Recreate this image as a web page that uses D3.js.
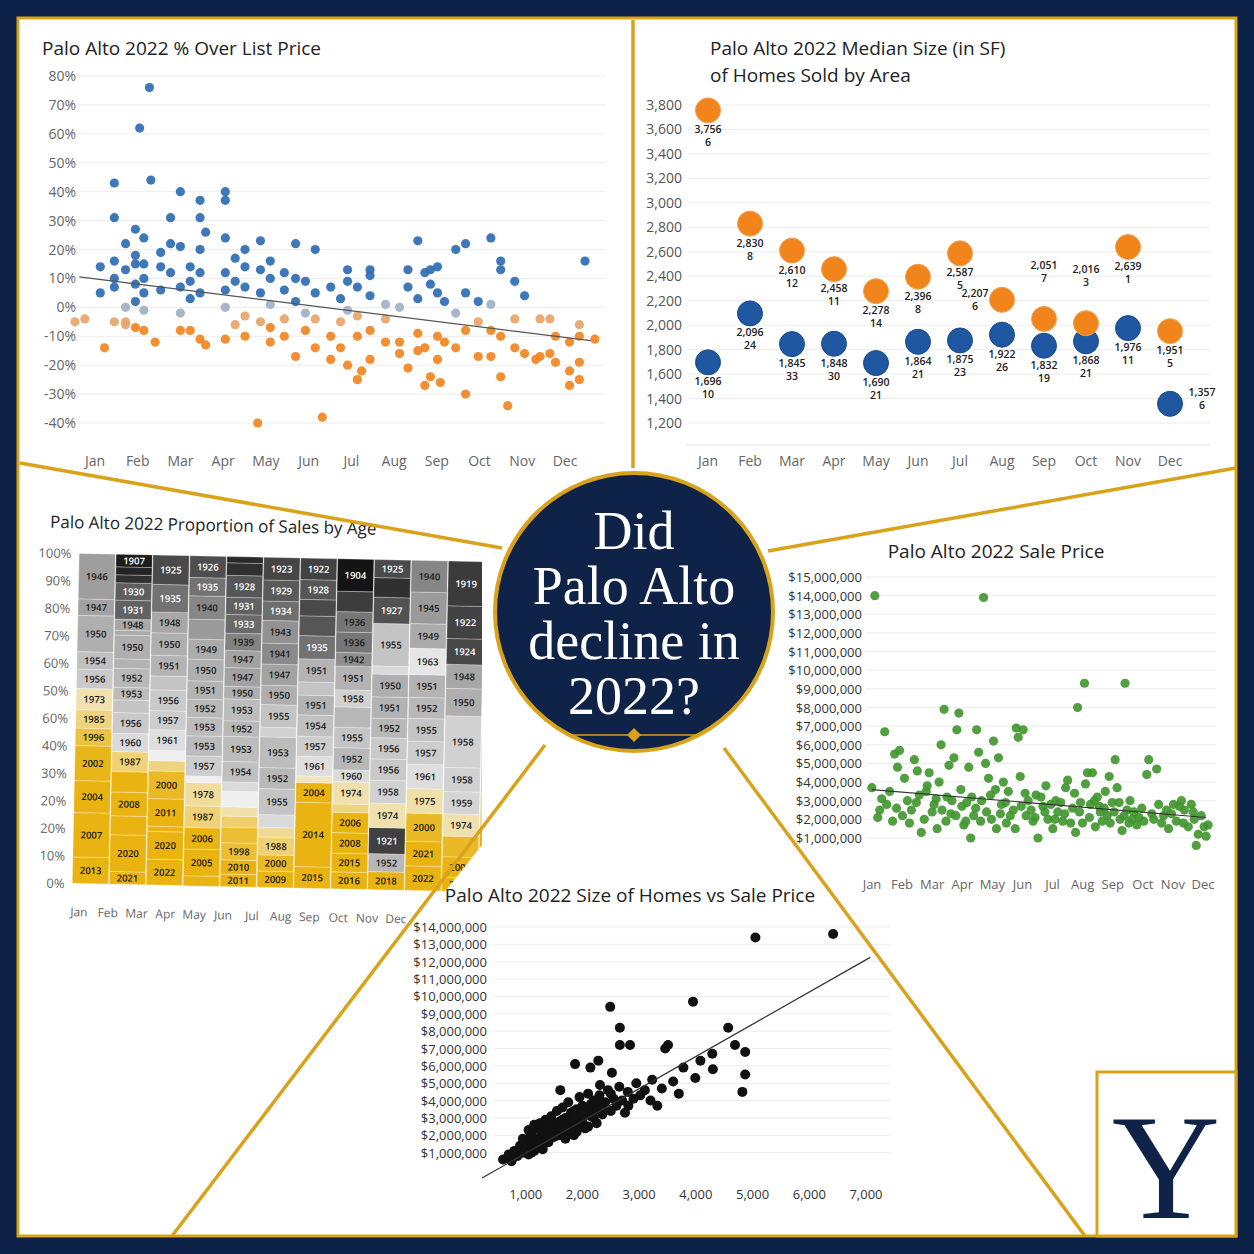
<!DOCTYPE html>
<html><head><meta charset="utf-8">
<script src="https://cdn.jsdelivr.net/npm/d3@7"></script>
<style>body{margin:0;background:#0b2145}text{font-family:"Open Sans",Lato,sans-serif}</style>
</head><body>
<svg id="c" width="1254" height="1254"></svg>
<script>
// ---------- data ----------
const months = ["Jan","Feb","Mar","Apr","May","Jun","Jul","Aug","Sep","Oct","Nov","Dec"];

// % over list: [day of year, percent]
const overList = [[1,-5],[8,-4],[19,14],[19,5],[22,-14],[29,43],[29,31],[29,16],[29,10],[29,7],[29,-5],
 [37,22],[37,13],[37,0],[37,-6],[37,-5],[44,27],[44,18],[44,15],[44,8],[44,2],[44,-7],
 [47,62],[54,76],[55,44],[50,24],[50,15],[50,10],[50,5],[50,-1],[50,-8],[58,-12],[62,19],[62,14],[62,6],
 [69,31],[69,22],[69,12],[76,40],[76,21],[76,7],[76,-2],[76,-8],[83,14],[83,9],[83,3],[83,-8],
 [90,37],[90,31],[90,20],[90,12],[90,5],[90,-11],[94,26],[94,-13],[108,40],[108,37],[108,24],[108,12],[108,6],[108,0],[108,-11],
 [115,17],[115,9],[115,-6],[122,20],[122,14],[122,7],[122,-3],[122,-10],[131,-40],[133,23],[133,13],[133,5],[133,-5],
 [140,16],[140,10],[140,1],[140,-7],[140,-12],[150,12],[150,6],[150,-4],[150,-10],[158,22],[158,10],[158,2],[158,-17],
 [165,9],[165,-2],[165,-8],[172,20],[172,5],[172,-4],[172,-14],[177,-38],[183,7],[183,-10],[183,-18],
 [190,3],[190,-5],[190,-14],[195,13],[195,9],[195,-1],[195,-20],[202,7],[202,-3],[202,-10],[202,-25],[205,-22],
 [211,11],[211,13],[211,4],[211,-8],[211,-18],[222,1],[222,-4],[222,-12],[232,0],[232,-12],[232,-16],
 [238,13],[238,7],[238,-21],[245,23],[245,3],[245,-9],[245,-15],[250,12],[250,-14],[250,-27],[254,13],[254,8],[254,-24],
 [259,14],[259,5],[259,-10],[259,-18],[261,-26],[264,2],[264,-12],[272,20],[272,-2],[272,-14],
 [279,22],[279,5],[279,-8],[279,-30],[288,2],[288,-5],[288,-17],[297,24],[297,1],[297,-8],[297,-17],
 [304,16],[304,13],[304,-10],[304,-24],[309,-34],[314,9],[314,-4],[314,-14],[321,4],[321,-16],
 [329,-18],[332,-17],[332,-4],[339,-4],[339,-16],[343,-19],[343,-10],[353,-12],[353,-27],[353,-22],
 [360,-6],[360,-10],[360,-19],[360,-25],[364,16],[371,-11]];
const overTrend = [[4,10.5],[368,-11.5]];

// median size by area
const sizeOrange = [3756,2830,2610,2458,2278,2396,2587,2207,2051,2016,2639,1951];
const countOrange = [6,8,12,11,14,8,5,6,7,3,1,5];
const sizeBlue = [1696,2096,1845,1848,1690,1864,1875,1922,1832,1868,1976,1357];
const countBlue = [10,24,33,30,21,21,23,26,19,21,11,6];

// proportion of sales by age: per month, [year built, share] bottom to top
const ageCols = [
 [[2013,8],[2007,13.5],[2004,9.7],[2002,10.6],[1996,5.3],[1985,5.6],[1973,6.5],[1956,5.8],[1954,5.3],[1950,11],[1947,5],[1946,13.8]],
 [[2021,4],[2020,11.6],[2017,6],[2008,7.5],[2003,6.5],[1987,6.3],[1960,5.8],[1956,6.5],[1955,4],[1953,4],[1952,6],[1951,3],[1950,7.5],[1949,1.5],[1948,3.5],[1931,6],[1930,5.5],[1915,2.5],[1910,2.5],[1907,4]],
 [[2022,7.5],[2020,8],[2015,1.5],[2011,8],[2000,8],[1985,3],[1965,3],[1961,6],[1957,5.5],[1956,6],[1955,4],[1951,6],[1950,6.5],[1948,6],[1935,8],[1925,8.5]],
 [[2021,3],[2005,8],[2006,6.5],[1987,6.5],[1978,7],[1965,2],[1957,6],[1953,6],[1953,5.5],[1952,5.5],[1951,5.5],[1950,6.5],[1949,6],[1945,6],[1940,7],[1935,5.5],[1926,6.5]],
 [[2011,4],[2010,4.5],[1998,5.5],[1998,5],[1990,3.5],[1975,3],[1965,5],[1960,3],[1954,6.5],[1953,8],[1952,5],[1953,7],[1950,4],[1947,6],[1947,5.5],[1939,5.5],[1933,6],[1931,5.5],[1928,7],[1915,4],[1912,2]],
 [[2009,5],[2000,5],[1988,5.5],[1980,3],[1960,4],[1955,8],[1952,6.5],[1953,9.5],[1958,3],[1955,7],[1950,6],[1947,6.5],[1941,6.5],[1943,7],[1934,6],[1929,6.5],[1923,7]],
 [[2015,6.5],[2014,19.5],[2004,6],[1970,2],[1961,6],[1957,6],[1954,6.5],[1951,6],[1955,4],[1951,7],[1935,7],[1928,6],[1925,5],[1928,6],[1922,6.5]],
 [[2016,5],[2015,5.5],[2008,6],[2006,6],[1985,2.5],[1974,6.5],[1960,3.5],[1952,6.5],[1955,6],[1952,6],[1958,5],[1951,7],[1942,4],[1936,6],[1936,6],[1920,6],[1904,9.5]],
 [[2018,5.5],[1952,5.5],[1921,8],[1974,7.5],[1958,7],[1956,6.5],[1956,6.5],[1952,6],[1951,6.5],[1950,7],[1960,2.5],[1955,13],[1927,8],[1915,6],[1925,5.5]],
 [[2022,7],[2021,7],[2000,8],[1975,7],[1961,7],[1957,6.5],[1955,6.5],[1952,6],[1951,6.5],[1963,7.5],[1949,7],[1945,9],[1940,9]],
 [[2010,4],[2005,6],[2000,6],[1974,6.5],[1959,6.5],[1958,7],[1958,15],[1950,8],[1948,7],[1924,7.5],[1922,9.5],[1919,13]],
 [[2012,20],[1980,10],[1958,30],[1940,40]]
];
const ageTicks = ["100%","90%","80%","70%","60%","50%","60%","40%","30%","20%","20%","10%","0%"];
const unlabeled = {"1-2":1,"1-4":1,"1-8":1,"1-13":1,"1-17":1,"1-18":1,"2-2":1,"2-5":1,"2-6":1,"2-10":1,"3-0":1,"3-5":1,"3-13":1,"4-3":1,"4-4":1,"4-5":1,"4-6":1,"4-7":1,"4-19":1,"4-20":1,"5-3":1,"5-4":1,"5-8":1,"6-3":1,"6-8":1,"6-11":1,"6-12":1,"7-4":1,"7-9":1,"7-15":1,"8-10":1,"8-13":1,"10-2":1,"11-0":1,"11-1":1,"11-2":1,"11-3":1};

// sale price: [day of year, $M]
const salePrice = [[18,14],[15,3.7],[28,6.7],[23,2.5],[33,3.5],[38,5.5],[41,4.8],[43,5.7],[48,4.2],[51,3.0],[55,2.5],[58,5.2],[61,4.6],[63,3.3],[68,2.0],[71,3.8],[73,4.5],[78,2.8],[81,1.5],[83,4.0],[85,6.0],[88,7.9],[91,3.2],[93,4.9],[95,2.3],[98,5.3],[101,6.8],[103,7.7],[105,3.6],[108,1.7],[111,2.9],[113,4.8],[115,1.0],[118,2.2],[121,6.8],[123,5.6],[126,3.0],[128,13.9],[130,5.0],[133,4.2],[135,3.3],[138,6.2],[141,1.5],[143,5.3],[146,2.8],[148,4.0],[151,1.8],[153,3.5],[158,2.5],[161,6.9],[163,6.4],[165,4.3],[168,6.8],[171,2.2],[173,3.0],[178,1.9],[181,3.3],[183,1.0],[188,2.7],[191,3.8],[193,2.0],[198,1.5],[201,3.0],[203,2.4],[208,1.9],[211,3.7],[213,4.1],[218,2.6],[221,1.3],[223,8.0],[226,2.9],[230,9.3],[231,3.9],[233,4.5],[235,2.1],[238,4.5],[241,1.6],[243,3.2],[246,2.4],[248,1.9],[251,3.5],[253,2.2],[255,4.3],[258,2.9],[261,5.2],[263,3.7],[266,2.0],[268,1.4],[271,9.3],[273,2.5],[276,3.0],[278,2.0],[283,1.7],[288,2.6],[293,4.4],[295,5.2],[298,2.3],[303,4.7],[305,2.8],[308,1.8],[313,2.5],[315,1.5],[318,2.3],[323,1.9],[326,2.7],[328,3.0],[331,2.5],[335,1.6],[338,2.8],[341,2.0],[343,0.6],[345,1.2],[348,2.2],[351,1.6],[353,1.1],[355,1.7],
 [21,2.1],[25,3.1],[30,2.8],[36,1.9],[40,2.6],[46,2.2],[53,1.8],[60,2.9],[65,1.3],[70,3.5],[76,2.4],[80,3.1],[86,2.5],[90,1.9],[96,3.0],[100,2.2],[106,2.7],[110,1.9],[116,3.2],[120,2.6],[125,1.9],[131,2.4],[136,2.0],[140,3.6],[145,2.3],[150,2.9],[155,2.2],[160,1.5],[166,2.7],[170,3.4],[176,2.5],[180,2.1],[186,3.2],[190,2.4],[196,2.8],[200,2.0],[206,2.9],[210,2.3],[216,1.8],[220,3.4],[225,2.4],[228,1.8],[236,2.8],[240,3.0],[245,2.7],[250,2.6],[256,1.8],[260,2.4],[265,2.9],[270,2.2],[275,1.8],[280,2.4],[285,2.1],[290,1.9],[300,2.0],[310,2.2],[320,2.8],[330,1.8],[340,2.4]];
const saleTrend = [[15,3.6],[353,2.1]];

// size vs price: [sq ft, $M]
const sizePrice = [[5050,13.4],[6420,13.6],[2490,9.4],[3950,9.7],[2660,8.2],[2660,7.2],[2840,7.2],[3460,7.0],[3510,7.2],[4570,8.2],[4690,7.2],[4870,6.8],[4290,6.7],[4080,6.3],[3780,5.9],[4870,5.5],[4820,4.5],[3990,5.3],[3230,5.2],[3020,4.3],[2810,3.7],[3320,3.7],[2520,5.6],[2310,4.9],[2140,5.9],[2280,6.3],[1870,6.1],[1610,4.6],
 [600,0.6],[700,0.9],[750,0.5],[800,1.1],[850,0.8],[900,1.4],[950,1.0],[1000,1.6],[1000,1.2],[1050,0.9],[1050,1.8],[1100,1.4],[1100,2.1],[1150,1.1],[1150,1.7],[1200,2.4],[1200,1.3],[1250,1.9],[1250,2.7],[1300,1.5],[1300,2.2],[1350,1.8],[1350,2.9],[1400,2.4],[1400,1.6],[1450,2.0],[1450,3.1],[1500,2.6],[1500,1.9],[1550,2.3],[1550,3.4],[1600,2.8],[1600,2.0],[1650,2.5],[1650,3.6],[1700,2.2],[1700,3.0],[1750,2.7],[1750,3.9],[1800,2.4],[1800,3.3],[1850,2.9],[1850,2.0],[1900,3.5],[1900,2.6],[1950,3.1],[1950,4.2],[2000,2.8],[2000,3.7],[2050,3.3],[2100,4.4],[2100,2.5],[2150,3.8],[2200,3.0],[2200,4.0],[2250,3.5],[2300,4.3],[2350,3.2],[2400,3.9],[2450,4.6],[2500,3.4],[2550,4.1],[2600,3.7],[2650,4.8],[2700,4.0],[2750,3.3],[2800,4.5],[2900,4.1],[2950,5.0],[3100,4.6],[3200,4.0],[3400,4.7],[3600,5.1],[3700,4.4],[4300,5.8],
 [950,1.8],[1050,2.3],[1150,2.6],[1250,1.5],[1350,2.5],[1450,2.8],[1550,2.0],[1650,2.9],[1750,2.3],[1850,3.4],[1950,2.6],[2050,2.4],[2150,3.1],[2250,2.7],[2350,3.6],[1200,1.7],[1400,2.0],[1600,2.4],[1800,2.8],[1300,1.2],[1700,1.8],[1900,2.2],[2100,3.4],[2300,3.8],[2500,4.4],[1100,1.0],[1500,2.2],[1700,2.6],[1850,3.1],[2000,3.2]];
const sizeTrend = [[230,-0.46],[7075,12.25]];

// ---------- layout ----------
const svg = d3.select("#c");
const gold = "#d9a21b", navy = "#0e2347";
svg.append("rect").attr("width",1254).attr("height",1254).attr("fill","#0b2145");
svg.append("rect").attr("x",18).attr("y",18).attr("width",1218).attr("height",1218).attr("fill","#fff").attr("stroke",gold).attr("stroke-width",3);

function grid(g, y, ticks, x0, x1) {
    g.selectAll(null).data(ticks).enter().append("line")
        .attr("x1",x0).attr("x2",x1).attr("y1",d=>y(d)).attr("y2",d=>y(d))
        .attr("stroke","#ececec");
}
function title(x, y, t, anchor) {
    svg.append("text").attr("x",x).attr("y",y).attr("text-anchor",anchor||"start")
        .attr("font-size",19).attr("fill","#222").text(t);
}
const axisTxt = (sel) => sel.attr("font-size",14).attr("fill","#666");

// ---- panel 1: % over list
{
    const g = svg.append("g");
    const x = d3.scaleLinear().domain([0,365]).range([73.6,586.4]);
    const y = d3.scaleLinear().domain([-40,80]).range([423,76]);
    const xm = d3.scalePoint().domain(months).range([95,565]);
    grid(g, y, d3.range(-40,81,10), 78, 605);
    g.selectAll(null).data(d3.range(-40,81,10)).enter().append("text").call(axisTxt)
        .attr("x",76).attr("y",d=>y(d)+5).attr("text-anchor","end").text(d=>d+"%");
    g.selectAll(null).data(months).enter().append("text").call(axisTxt)
        .attr("x",d=>xm(d)).attr("y",466).attr("text-anchor","middle").text(d=>d);
    const col = v => v >= 2 ? "#2f6db3" : v > -3 ? "#9fb0c4" : v > -7 ? "#e8a56a" : "#f28522";
    g.selectAll("circle").data(overList).enter().append("circle")
        .attr("cx",d=>x(d[0])).attr("cy",d=>y(d[1])).attr("r",4.6)
        .attr("fill",d=>col(d[1])).attr("opacity",0.92);
    g.append("path").datum(overTrend).attr("d",d3.line().x(d=>x(d[0])).y(d=>y(d[1])))
        .attr("stroke","#555").attr("stroke-width",1.3);
    title(42,55,"Palo Alto 2022 % Over List Price");
}

// ---- panel 2: median size
{
    const g = svg.append("g");
    const x = d3.scalePoint().domain(months).range([708,1170]);
    const y = d3.scaleLinear().domain([1200,3800]).range([423,105]);
    grid(g, y, d3.range(1200,3801,200), 688, 1210);
    g.append("line").attr("x1",686).attr("x2",1210).attr("y1",445).attr("y2",445).attr("stroke","#e4e4e4");
    g.selectAll(null).data(d3.range(1200,3801,200)).enter().append("text").call(axisTxt)
        .attr("x",682).attr("y",d=>y(d)+5).attr("text-anchor","end").attr("fill","#555").text(d3.format(","));
    g.selectAll(null).data(months).enter().append("text").call(axisTxt)
        .attr("x",d=>x(d)).attr("y",466).attr("text-anchor","middle").text(d=>d);
    const series = [
        {vals:sizeBlue, n:countBlue, c:"#1f57a0", s:"#174a8c"},
        {vals:sizeOrange, n:countOrange, c:"#f2841c", s:"#f0a050"}];
    // label offsets (dx, dy) for the few labels that sit beside or above the dot
    const off = (k, i) => {
        if (k===1 && i===7) return [-27,-3];
        if (k===1 && (i===8||i===9)) return [0,-50];
        if (k===0 && i===11) return [32,-8];
        return [0,23];
    };
    series.forEach((s,k) => {
        g.selectAll(null).data(s.vals).enter().append("circle")
            .attr("cx",(d,i)=>x(months[i])).attr("cy",d=>y(d)).attr("r",12.5)
            .attr("fill",s.c).attr("stroke",s.s).attr("stroke-width",1);
        const t = g.selectAll(null).data(s.vals).enter().append("text")
            .attr("font-size",10.5).attr("font-weight",600).attr("fill","#222").attr("text-anchor","middle")
            .attr("x",(d,i)=>x(months[i])+off(k,i)[0]).attr("y",(d,i)=>y(d)+off(k,i)[1]);
        t.append("tspan").text(d3.format(","));
        t.append("tspan").attr("x",(d,i)=>x(months[i])+off(k,i)[0]).attr("dy",13).text((d,i)=>s.n[i]);
    });
    title(710,55,"Palo Alto 2022 Median Size (in SF)");
    title(710,82,"of Homes Sold by Area");
}

// ---- panel 3: proportion by age
{
    svg.append("clipPath").attr("id","ageClip").append("path")
        .attr("d","M18,463 L482,545 L482,845 L172,1236 L18,1236 Z");
    const g = svg.append("g").attr("clip-path","url(#ageClip)")
        .append("g").attr("transform","rotate(1.2 250 720)");
    const x = d3.scaleBand().domain(d3.range(12)).range([75,519]).padding(0.02);
    const y = d3.scaleLinear().domain([0,1]).range([887,557]);
    const grey = d3.scaleLinear().domain([1900,1925,1945,1962]).range(["#0a0a0a","#4a4a4a","#9a9a9a","#e2e2e2"]);
    const yel = d3.scaleLinear().domain([1968,1990,2003]).range(["#f1e6c6","#efcf6a","#e9b412"]).clamp(true);
    const color = yr => yr < 1966 ? grey(yr) : yel(yr);
    ageCols.forEach((col,ci) => {
        const tot = d3.sum(col, d=>d[1]);
        let acc = 0;
        const segs = col.map((d,si) => { const s = {yr:d[0], y0:acc/tot, y1:(acc+d[1])/tot, key:ci+"-"+si}; acc += d[1]; return s; });
        const cg = g.append("g");
        cg.selectAll("rect").data(segs).enter().append("rect")
            .attr("x",x(ci)).attr("width",x.bandwidth())
            .attr("y",d=>y(d.y1)).attr("height",d=>y(d.y0)-y(d.y1))
            .attr("fill",d=>color(d.yr)).attr("stroke","#fff").attr("stroke-opacity",0.35).attr("stroke-width",0.8);
        cg.selectAll("text").data(segs.filter(d=>!unlabeled[d.key] && y(d.y0)-y(d.y1) > 11)).enter().append("text")
            .attr("x",x(ci)+x.bandwidth()/2).attr("y",d=>(y(d.y0)+y(d.y1))/2+3.5)
            .attr("text-anchor","middle").attr("font-size",9.5).attr("font-weight",600)
            .attr("fill",d=>d.yr < 1936 ? "#fff" : "#1a1a1a").text(d=>d.yr);
    });
    const yt = d3.scalePoint().domain(d3.range(ageTicks.length)).range([557,887]);
    g.selectAll(null).data(ageTicks).enter().append("text").call(axisTxt)
        .attr("x",68).attr("y",(d,i)=>yt(i)+5).attr("text-anchor","end").attr("font-size",13).text(d=>d);
    const xl = d3.scalePoint().domain(months).range([83,400]);
    g.selectAll(null).data(months).enter().append("text").call(axisTxt)
        .attr("x",d=>xl(d)).attr("y",920).attr("text-anchor","middle").attr("font-size",12).text(d=>d);
    g.append("text").attr("x",46).attr("y",532).attr("font-size",17).attr("fill","#222")
        .text("Palo Alto 2022 Proportion of Sales by Age");
}

// ---- panel 4: sale price
{
    const g = svg.append("g");
    const x = d3.scaleLinear().domain([0,365]).range([857,1218]);
    const y = d3.scaleLinear().domain([1,15]).range([838,577]);
    const xm = d3.scalePoint().domain(months).range([872,1203]);
    grid(g, y, d3.range(1,16), 866, 1216);
    g.selectAll(null).data(d3.range(1,16)).enter().append("text").call(axisTxt)
        .attr("x",862).attr("y",d=>y(d)+5).attr("text-anchor","end").attr("font-size",13).attr("fill","#333")
        .text(d=>"$"+d3.format(",")(d*1e6));
    g.selectAll(null).data(months).enter().append("text").call(axisTxt)
        .attr("x",d=>xm(d)).attr("y",889).attr("text-anchor","middle").attr("font-size",13).text(d=>d);
    g.selectAll("circle").data(salePrice).enter().append("circle")
        .attr("cx",d=>x(d[0])).attr("cy",d=>y(d[1])).attr("r",4.6).attr("fill","#3f952c").attr("opacity",0.9);
    g.append("path").datum(saleTrend).attr("d",d3.line().x(d=>x(d[0])).y(d=>y(d[1])))
        .attr("stroke","#333").attr("stroke-width",1.2);
    title(996,558,"Palo Alto 2022 Sale Price","middle");
}

// ---- panel 5: size vs price
{
    const g = svg.append("g");
    const x = d3.scaleLinear().domain([0,7000]).range([469,866]);
    const y = d3.scaleLinear().domain([0,14]).range([1170,927]);
    grid(g, y, d3.range(1,15), 494, 890);
    g.selectAll(null).data(d3.range(1,15)).enter().append("text").call(axisTxt)
        .attr("x",487).attr("y",d=>y(d)+5).attr("text-anchor","end").attr("font-size",13).attr("fill","#333")
        .text(d=>"$"+d3.format(",")(d*1e6));
    g.selectAll(null).data(d3.range(1000,7001,1000)).enter().append("text").call(axisTxt)
        .attr("x",d=>x(d)).attr("y",1199).attr("text-anchor","middle").attr("font-size",13).attr("fill","#333")
        .text(d3.format(","));
    g.selectAll("circle").data(sizePrice).enter().append("circle")
        .attr("cx",d=>x(d[0])).attr("cy",d=>y(d[1])).attr("r",5).attr("fill","#111");
    g.append("path").datum(sizeTrend).attr("d",d3.line().x(d=>x(d[0])).y(d=>y(d[1])))
        .attr("stroke","#333").attr("stroke-width",1.2);
    title(630,902,"Palo Alto 2022 Size of Homes vs Sale Price","middle");
}

// ---------- dividers, center badge, logo ----------
const lines = [[633,20,633,472],[20,463,502,548],[1236,468,768,551],[545,745,172,1236],[724,748,1085,1236]];
svg.selectAll(null).data(lines).enter().append("line")
    .attr("x1",d=>d[0]).attr("y1",d=>d[1]).attr("x2",d=>d[2]).attr("y2",d=>d[3])
    .attr("stroke",gold).attr("stroke-width",3.5);
svg.append("circle").attr("cx",634).attr("cy",612).attr("r",144).attr("fill","#fff");
svg.append("circle").attr("cx",634).attr("cy",612).attr("r",139).attr("fill",navy).attr("stroke",gold).attr("stroke-width",4);
["Did","Palo Alto","decline in","2022?"].forEach((t,i) => {
    svg.append("text").attr("x",634).attr("y",549+i*55).attr("text-anchor","middle")
        .style("font-family","'Liberation Serif',serif").attr("font-size",54)
        .attr("fill","#fff").text(t);
});
svg.append("line").attr("x1",568).attr("x2",698).attr("y1",735).attr("y2",735).attr("stroke",gold).attr("stroke-width",1.5);
svg.append("path").attr("d","M634,728 L641,735 L634,742 L627,735 Z").attr("fill",gold);

svg.append("rect").attr("x",1097).attr("y",1072).attr("width",139).attr("height",164)
    .attr("fill","#fff").attr("stroke",gold).attr("stroke-width",3);
svg.append("text").attr("x",1166).attr("y",1218).attr("text-anchor","middle")
    .style("font-family","'Liberation Serif',serif").attr("font-size",150).attr("fill",navy).text("Y");
</script>
</body></html>
